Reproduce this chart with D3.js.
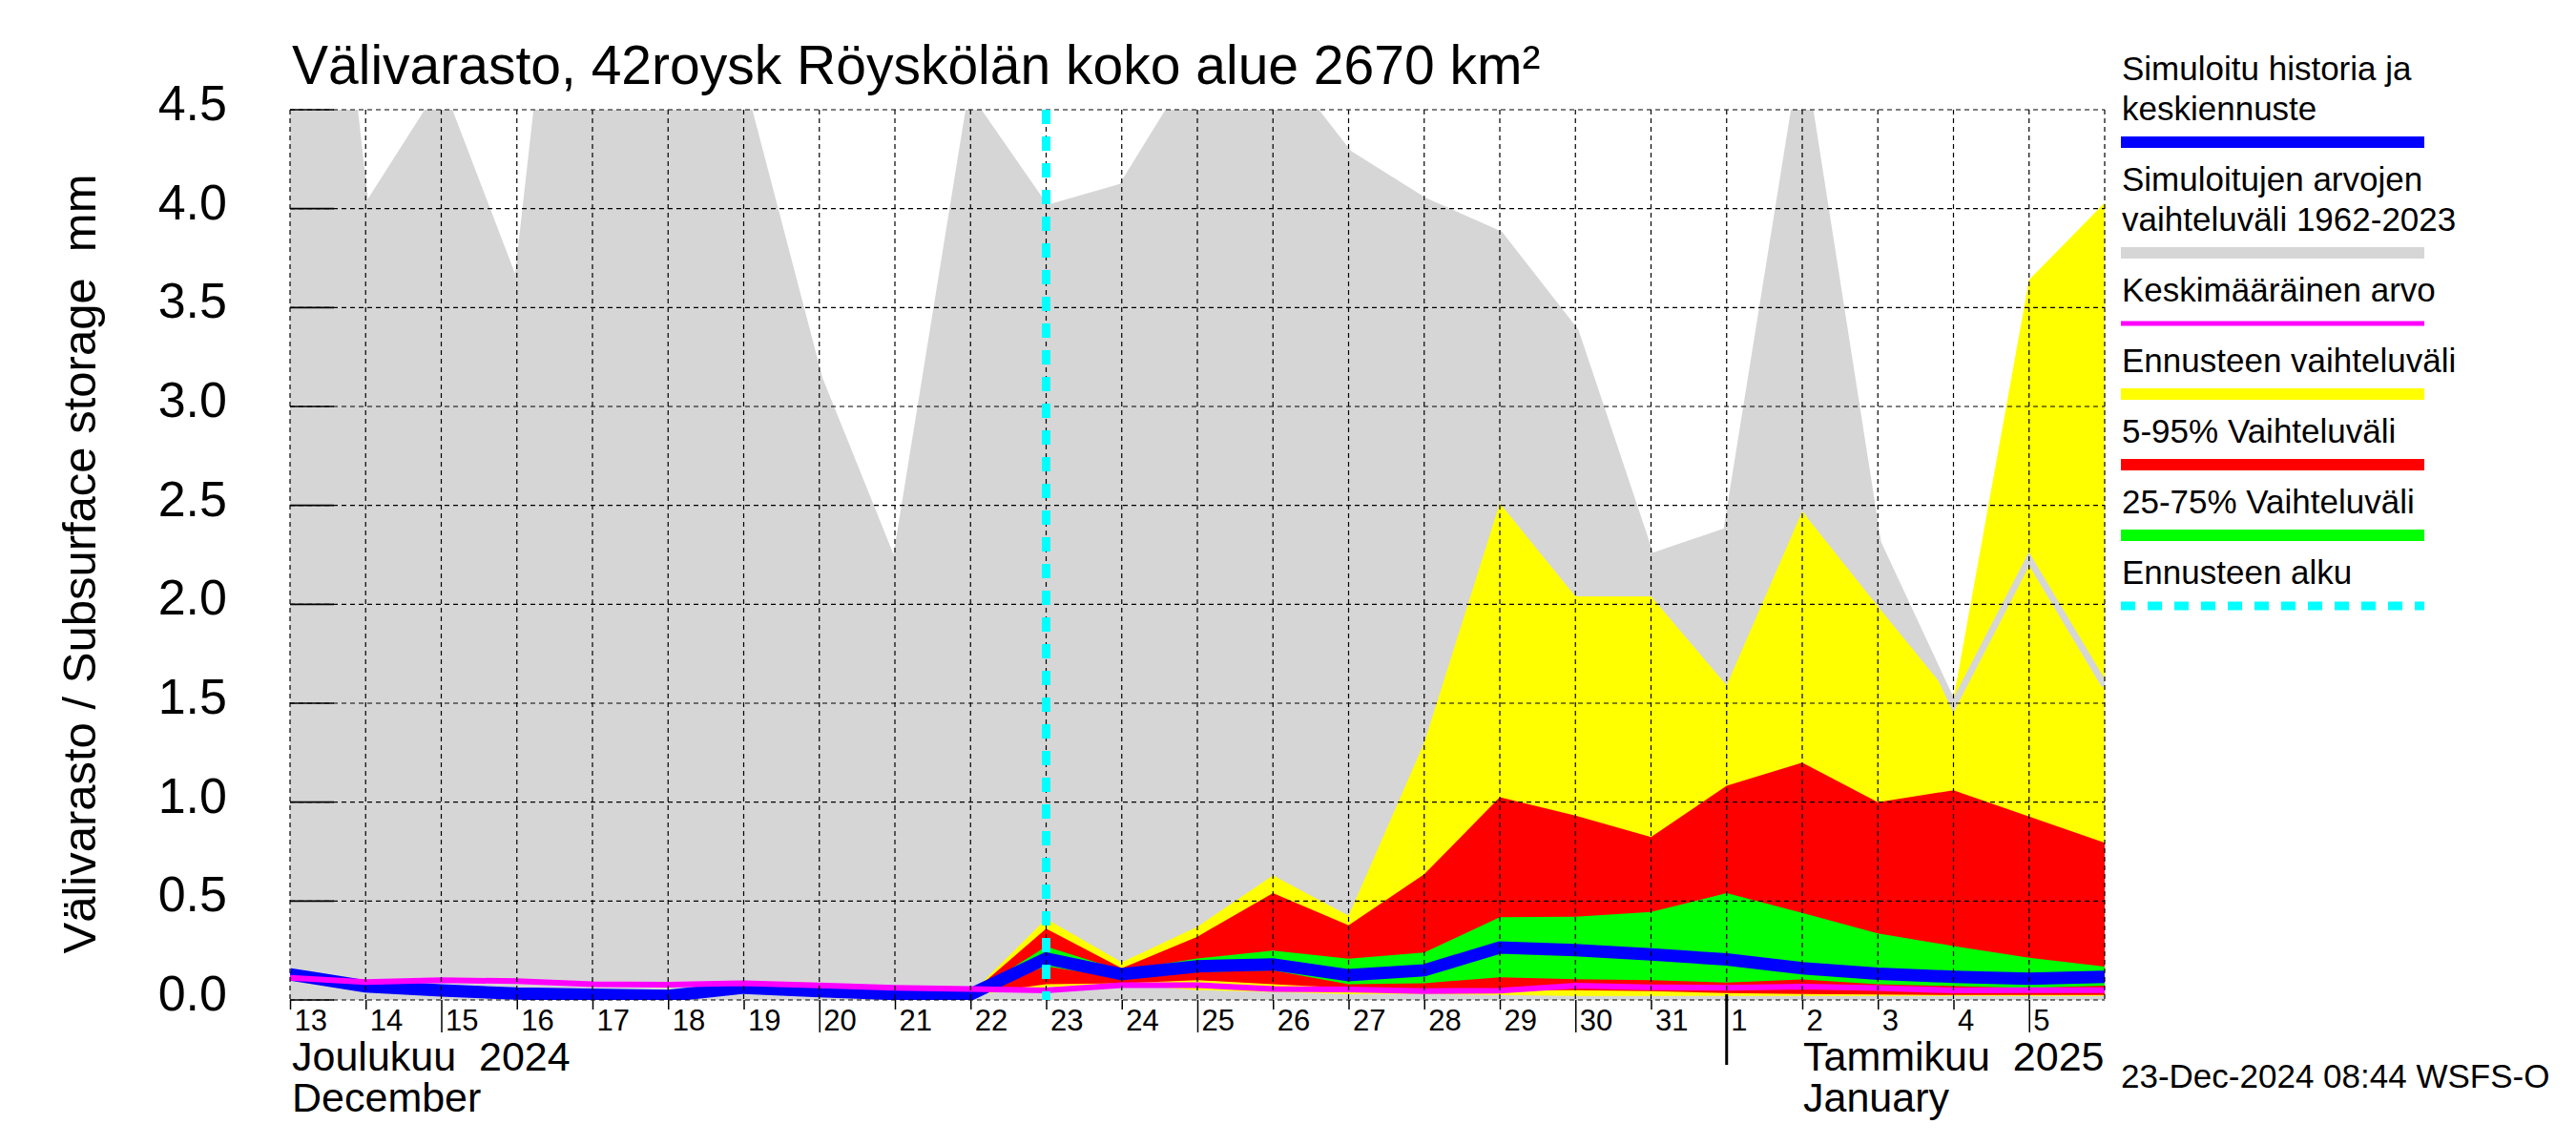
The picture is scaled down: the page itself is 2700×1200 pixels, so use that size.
<!DOCTYPE html>
<html lang="fi">
<head>
<meta charset="UTF-8">
<title>Välivarasto 42roysk</title>
<script src="https://d3js.org/d3.v7.min.js"></script>
<style>
    body { margin: 0; background: #fff; }
    svg { font-family: "Liberation Sans", Arial, sans-serif; }
</style>
</head>
<body>
<div class="container"></div>

<script>
    // days of the chart, one point per day at 00:00
    const days = ["2024-12-13", "2024-12-14", "2024-12-15", "2024-12-16", "2024-12-17",
        "2024-12-18", "2024-12-19", "2024-12-20", "2024-12-21", "2024-12-22", "2024-12-23",
        "2024-12-24", "2024-12-25", "2024-12-26", "2024-12-27", "2024-12-28", "2024-12-29",
        "2024-12-30", "2024-12-31", "2025-01-01", "2025-01-02", "2025-01-03", "2025-01-04",
        "2025-01-05", "2025-01-06"];
    const dayLabels = ["13", "14", "15", "16", "17", "18", "19", "20", "21", "22", "23", "24",
        "25", "26", "27", "28", "29", "30", "31", "1", "2", "3", "4", "5"];
    const yTicks = [0, 0.5, 1, 1.5, 2, 2.5, 3, 3.5, 4, 4.5];

    // range of simulated values 1962-2023
    const rangeHigh = [7.4, 4.0, 4.6, 3.6, 7.0, 6.0, 4.6, 3.14, 2.19, 4.55, 4.0, 4.11, 4.73,
        4.77, 4.28, 4.04, 3.87, 3.38, 2.24, 2.37, 4.75, 2.31, 1.49, 2.23, 1.59];
    const rangeLow = [0, 0, 0, 0, 0, 0, 0, 0, 0, 0, 0, 0, 0, 0, 0, 0, 0, 0, 0, 0, 0, 0, 0, 0, 0];
    // simulated history + median forecast
    const simulated = [0.13, 0.069, 0.048, 0.032, 0.026, 0.021, 0.062, 0.045, 0.03, 0.028, 0.21,
        0.13, 0.17, 0.18, 0.125, 0.15, 0.265, 0.252, 0.23, 0.205, 0.16, 0.133, 0.117, 0.107, 0.117];
    // mean value
    const meanValue = [0.112, 0.09, 0.1, 0.095, 0.08, 0.077, 0.085, 0.073, 0.062, 0.056, 0.048,
        0.075, 0.075, 0.056, 0.053, 0.045, 0.047, 0.072, 0.064, 0.062, 0.067, 0.06, 0.048, 0.05, 0.05];

    // forecast bands, from 22.12. onwards
    const fcStart = 9;
    const fcHigh = [0.03, 0.41, 0.19, 0.37, 0.63, 0.426, 1.3, 2.51, 2.04, 2.04, 1.59, 2.47, 1.99, 1.52, 3.64, 4.03];
    const fcLow = [0.025, 0.065, 0.08, 0.05, 0.04, 0.03, 0.03, 0.025, 0.02, 0.02, 0.02, 0.02, 0.02, 0.02, 0.02, 0.02];
    const p95 = [0.03, 0.36, 0.16, 0.32, 0.54, 0.378, 0.635, 1.025, 0.932, 0.823, 1.083, 1.2, 1.0, 1.06, 0.927, 0.795];
    const p5 = [0.028, 0.08, 0.085, 0.1, 0.08, 0.06, 0.055, 0.05, 0.05, 0.045, 0.035, 0.03, 0.028, 0.025, 0.025, 0.025];
    const p75 = [0.03, 0.27, 0.15, 0.21, 0.25, 0.209, 0.24, 0.418, 0.421, 0.445, 0.54, 0.44, 0.337, 0.273, 0.214, 0.169];
    const p25 = [0.028, 0.17, 0.11, 0.14, 0.15, 0.08, 0.085, 0.115, 0.105, 0.1, 0.088, 0.104, 0.08, 0.07, 0.06, 0.072];

    const forecastBegin = "2024-12-23";

    const legendItems = [
        { lines: ["Simuloitu historia ja", "keskiennuste"], color: "#0000ff", h: 12 },
        { lines: ["Simuloitujen arvojen", "vaihteluväli 1962-2023"], color: "#d6d6d6", h: 12 },
        { lines: ["Keskimääräinen arvo"], color: "#ff00ff", h: 5 },
        { lines: ["Ennusteen vaihteluväli"], color: "#ffff00", h: 12 },
        { lines: ["5-95% Vaihteluväli"], color: "#ff0000", h: 12 },
        { lines: ["25-75% Vaihteluväli"], color: "#00ff00", h: 12 },
        { lines: ["Ennusteen alku"], color: "#00ffff", h: 9, dash: "15,13" }
    ];

    const W = 2700, H = 1200;
    const plotLeft = 304, plotRight = 2206, plotTop = 115, plotBottom = 1048;

    const parse = d3.utcParse("%Y-%m-%d");
    const dates = days.map(parse);

    const svg = d3.select(".container")
        .append("svg")
        .attr("width", W)
        .attr("height", H)
        .attr("viewBox", `0 0 ${W} ${H}`);

    const x = d3.scaleUtc()
        .domain([dates[0], dates[dates.length - 1]])
        .range([plotLeft, plotRight]);
    const y = d3.scaleLinear()
        .domain([0, 4.5])
        .range([plotBottom, plotTop]);

    svg.append("clipPath").attr("id", "plot")
        .append("rect")
        .attr("x", plotLeft).attr("y", plotTop)
        .attr("width", plotRight - plotLeft).attr("height", plotBottom - plotTop);

    const band = d3.area()
        .x(d => x(d.date))
        .y0(d => y(d.lo))
        .y1(d => y(d.hi));
    const line = d3.line()
        .x(d => x(d.date))
        .y(d => y(d.v));

    const plot = svg.append("g").attr("clip-path", "url(#plot)");

    // grey range of history
    const rangeData = dates.map((d, i) => ({ date: d, lo: rangeLow[i], hi: rangeHigh[i] }));
    plot.append("path").attr("d", band(rangeData)).attr("fill", "#d6d6d6");

    const fcDates = dates.slice(fcStart);
    const bands = [
        [fcHigh, fcLow, "#ffff00"],
        [p95, p5, "#ff0000"],
        [p75, p25, "#00ff00"]
    ];
    bands.forEach(([hi, lo, col]) => {
        const data = fcDates.map((d, i) => ({ date: d, lo: lo[i], hi: hi[i] }));
        plot.append("path").attr("d", band(data)).attr("fill", col);
    });

    // upper edge of the grey range stays visible over the forecast
    plot.append("path")
        .attr("d", line(dates.map((d, i) => ({ date: d, v: rangeHigh[i] }))))
        .attr("fill", "none")
        .attr("stroke", "#d6d6d6")
        .attr("stroke-width", 7);

    // grid
    const grid = svg.append("g")
        .attr("stroke", "#000")
        .attr("stroke-width", 1.2)
        .attr("stroke-dasharray", "5,4");
    grid.selectAll(".vg")
        .data(dates)
        .join("line")
        .attr("x1", d => x(d)).attr("x2", d => x(d))
        .attr("y1", plotTop).attr("y2", plotBottom);
    grid.selectAll(".hg")
        .data(yTicks)
        .join("line")
        .attr("x1", plotLeft).attr("x2", plotRight)
        .attr("y1", d => y(d)).attr("y2", d => y(d));

    // y ticks inward
    svg.append("g").selectAll("line")
        .data(yTicks)
        .join("line")
        .attr("x1", plotLeft).attr("x2", plotLeft + 46)
        .attr("y1", d => y(d)).attr("y2", d => y(d))
        .attr("stroke", "#000").attr("stroke-width", 1.6);

    // blue and magenta lines
    plot.append("path")
        .attr("d", line(dates.map((d, i) => ({ date: d, v: simulated[i] }))))
        .attr("fill", "none")
        .attr("stroke", "#0000ff")
        .attr("stroke-width", 13);
    plot.append("path")
        .attr("d", line(dates.map((d, i) => ({ date: d, v: meanValue[i] }))))
        .attr("fill", "none")
        .attr("stroke", "#ff00ff")
        .attr("stroke-width", 6);

    // forecast start
    const fx = x(parse(forecastBegin));
    svg.append("line")
        .attr("x1", fx).attr("x2", fx)
        .attr("y1", plotTop).attr("y2", plotBottom)
        .attr("stroke", "#00ffff")
        .attr("stroke-width", 9)
        .attr("stroke-dasharray", "15,13");

    // y labels
    svg.append("g").selectAll("text")
        .data(yTicks)
        .join("text")
        .attr("x", 238)
        .attr("y", d => y(d) + 11)
        .attr("text-anchor", "end")
        .attr("font-size", 52)
        .text(d => d.toFixed(1));

    svg.append("text")
        .attr("transform", `translate(100,591) rotate(-90)`)
        .attr("text-anchor", "middle")
        .attr("font-size", 49)
        .style("white-space", "pre")
        .text("Välivarasto / Subsurface storage  mm");

    // x axis
    const xAxis = svg.append("g")
        .attr("transform", `translate(0,${plotBottom})`)
        .call(d3.axisBottom(x)
            .tickValues(dates.slice(0, dayLabels.length))
            .tickFormat((d, i) => dayLabels[i])
            .tickSize(10));
    xAxis.attr("font-family", null).attr("font-size", null);
    xAxis.select(".domain").remove();
    xAxis.selectAll(".tick line")
        .attr("stroke-width", 1.5)
        .attr("y2", d => d.getUTCDate() % 5 === 0 ? 34 : 10);
    xAxis.selectAll(".tick text")
        .attr("text-anchor", "start")
        .attr("x", 4)
        .attr("y", 32)
        .attr("dy", null)
        .attr("font-size", 31);

    // month divider
    const jan1 = x(parse("2025-01-01"));
    svg.append("line")
        .attr("x1", jan1).attr("x2", jan1)
        .attr("y1", plotBottom - 6).attr("y2", 1116)
        .attr("stroke", "#000").attr("stroke-width", 3);

    const monthText = [
        ["Joulukuu  2024", "December", x(dates[0]) + 2],
        ["Tammikuu  2025", "January", x(parse("2025-01-02")) + 1]
    ];
    monthText.forEach(([fi, en, mx]) => {
        svg.append("text").attr("x", mx).attr("y", 1122).attr("font-size", 43)
            .style("white-space", "pre").text(fi);
        svg.append("text").attr("x", mx).attr("y", 1165).attr("font-size", 43).text(en);
    });

    // title
    svg.append("text")
        .attr("x", 306).attr("y", 88)
        .attr("font-size", 57)
        .text("Välivarasto, 42roysk Röyskölän koko alue 2670 km²");

    // legend
    const lg = svg.append("g");
    let ly = 84;
    legendItems.forEach(item => {
        item.lines.forEach((t, k) => {
            lg.append("text").attr("x", 2224).attr("y", ly + k * 42)
                .attr("font-size", 35).text(t);
        });
        const barY = ly + (item.lines.length - 1) * 42 + 17 + (12 - item.h) / 2;
        if (item.dash) {
            lg.append("line")
                .attr("x1", 2223).attr("x2", 2541)
                .attr("y1", barY + item.h / 2).attr("y2", barY + item.h / 2)
                .attr("stroke", item.color).attr("stroke-width", item.h)
                .attr("stroke-dasharray", item.dash);
        } else {
            lg.append("rect").attr("x", 2223).attr("y", barY)
                .attr("width", 318).attr("height", item.h)
                .attr("fill", item.color);
        }
        ly += (item.lines.length - 1) * 42 + 74;
    });

    // time stamp
    svg.append("text")
        .attr("x", 2223).attr("y", 1140)
        .attr("font-size", 35)
        .text("23-Dec-2024 08:44 WSFS-O");
</script>
</body>
</html>
